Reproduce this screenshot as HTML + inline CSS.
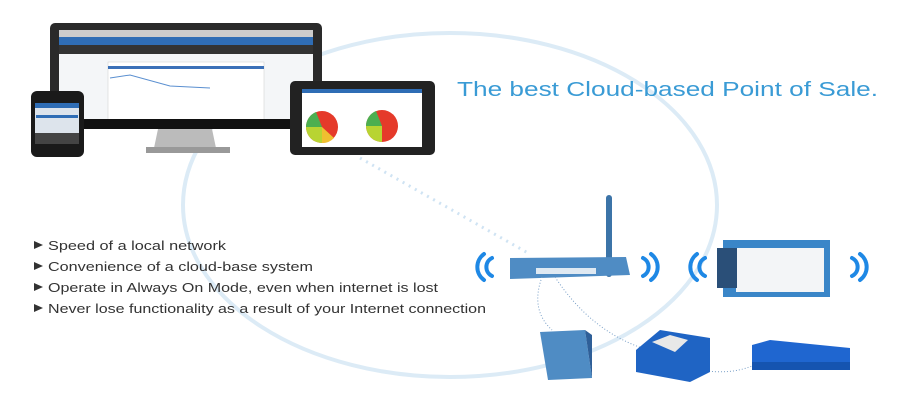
<!DOCTYPE html>
<html><head><meta charset="utf-8"><style>html,body{margin:0;padding:0;background:#fff;width:900px;height:400px;overflow:hidden}</style></head><body>
<svg width="900" height="400" viewBox="0 0 900 400" xmlns="http://www.w3.org/2000/svg" font-family="Liberation Sans, sans-serif">
<ellipse cx="450" cy="205" rx="267" ry="172" fill="none" stroke="#dcebf6" stroke-width="4"/>
<!-- dotted line tablet to router -->
<line x1="360" y1="158" x2="528" y2="253" stroke="#cfe3f3" stroke-width="3" stroke-dasharray="2,5"/>
<!-- monitor -->
<rect x="50" y="23" width="272" height="106" rx="5" fill="#2a2a2a"/>
<rect x="59" y="30" width="254" height="90" fill="#f4f6f8"/>
<rect x="59" y="30" width="254" height="7" fill="#ccc"/>
<rect x="59" y="37" width="254" height="8" fill="#2f6db5"/>
<rect x="59" y="45" width="254" height="9" fill="#333"/>
<rect x="108" y="62" width="156" height="58" fill="#fff" stroke="#ccc" stroke-width="0.5"/>
<rect x="108" y="66" width="156" height="3" fill="#3a70b8"/>
<polyline points="110,78 130,75 170,86 210,88" fill="none" stroke="#5a8fd0" stroke-width="1"/>
<rect x="50" y="119" width="272" height="10" fill="#111"/>
<path d="M158 129 L212 129 L216 148 L154 148 Z" fill="#bbb"/>
<rect x="146" y="147" width="84" height="6" fill="#999"/>
<!-- phone -->
<rect x="31" y="91" width="53" height="66" rx="6" fill="#1a1a1a"/>
<rect x="35" y="103" width="44" height="41" fill="#dde4ec"/>
<rect x="35" y="103" width="44" height="5" fill="#2f6db5"/>
<rect x="36" y="115" width="42" height="3" fill="#2f6db5"/>
<rect x="35" y="133" width="44" height="11" fill="#444"/>
<!-- tablet -->
<rect x="290" y="81" width="145" height="74" rx="5" fill="#222"/>
<rect x="302" y="89" width="120" height="58" fill="#fff"/>
<rect x="302" y="89" width="120" height="4" fill="#2f6db5"/>
<circle cx="322" cy="127" r="16" fill="#e53a2a"/>
<path d="M322 127 L306 127 A16 16 0 0 0 322 143 Z" fill="#b8d432"/>
<path d="M322 127 L322 143 A16 16 0 0 0 334 138 Z" fill="#f0c030"/>
<path d="M322 127 L306 127 A16 16 0 0 1 316 112 Z" fill="#4caf50"/>
<circle cx="382" cy="126" r="16" fill="#e53a2a"/>
<path d="M382 126 L366 126 A16 16 0 0 0 382 142 Z" fill="#b8d432"/>
<path d="M382 126 L366 126 A16 16 0 0 1 376 111 Z" fill="#4caf50"/>
<!-- title -->
<text x="457" y="96" font-size="20" fill="#3a9bd5" textLength="421" lengthAdjust="spacingAndGlyphs">The best Cloud-based Point of Sale.</text>
<!-- bullets -->
<g font-size="13" fill="#333">
<path d="M34 241 L43 245 L34 249 Z" fill="#333"/><text x="48" y="250" textLength="178" lengthAdjust="spacingAndGlyphs">Speed of a local network</text>
<path d="M34 262 L43 266 L34 270 Z" fill="#333"/><text x="48" y="271" textLength="265" lengthAdjust="spacingAndGlyphs">Convenience of a cloud-base system</text>
<path d="M34 283 L43 287 L34 291 Z" fill="#333"/><text x="48" y="292" textLength="390" lengthAdjust="spacingAndGlyphs">Operate in Always On Mode, even when internet is lost</text>
<path d="M34 304 L43 308 L34 312 Z" fill="#333"/><text x="48" y="313" textLength="438" lengthAdjust="spacingAndGlyphs">Never lose functionality as a result of your Internet connection</text>
</g>
<!-- router -->
<rect x="606" y="195" width="6" height="82" rx="3" fill="#3c74a8"/>
<path d="M510 258 L626 257 L630 275 L510 279 Z" fill="#4f8cc4"/>
<rect x="536" y="268" width="60" height="6" fill="#dfe9f2"/>
<!-- wifi waves -->
<g fill="none" stroke="#1e88e5" stroke-width="4" stroke-linecap="round">
<path d="M492 258 A10 10 0 0 0 492 276"/><path d="M484 254 A16 16 0 0 0 484 280"/>
<path d="M643 258 A10 10 0 0 1 643 276"/><path d="M651 254 A16 16 0 0 1 651 280"/>
<path d="M705 258 A10 10 0 0 0 705 276"/><path d="M697 254 A16 16 0 0 0 697 280"/>
<path d="M852 258 A10 10 0 0 1 852 276"/><path d="M860 254 A16 16 0 0 1 860 280"/>
</g>
<!-- card terminal -->
<rect x="723" y="240" width="107" height="57" fill="#3a86c8"/>
<rect x="736" y="248" width="88" height="44" fill="#f3f5f7"/>
<rect x="717" y="248" width="20" height="40" fill="#2a4f78"/>
<!-- dotted cables -->
<g fill="none" stroke="#7aa0c8" stroke-width="1" stroke-dasharray="1,2">
<path d="M542 277 Q530 310 552 330"/>
<path d="M555 277 Q590 330 642 348"/>
<path d="M700 370 Q730 375 752 366"/>
</g>
<!-- modem -->
<path d="M540 332 L585 330 L592 378 L548 380 Z" fill="#4f8cc4"/>
<path d="M585 330 L592 335 L592 378 Z" fill="#2f5f98"/>
<!-- printer -->
<path d="M636 350 L660 330 L710 338 L710 372 L690 382 L636 372 Z" fill="#1f64c4"/>
<path d="M652 342 L670 335 L688 340 L675 352 Z" fill="#e8e8e8"/>
<!-- cash drawer -->
<path d="M752 345 L770 340 L850 348 L850 370 L752 368 Z" fill="#1f66d0"/>
<rect x="752" y="362" width="98" height="8" fill="#1554b0"/>
</svg>
</body></html>
